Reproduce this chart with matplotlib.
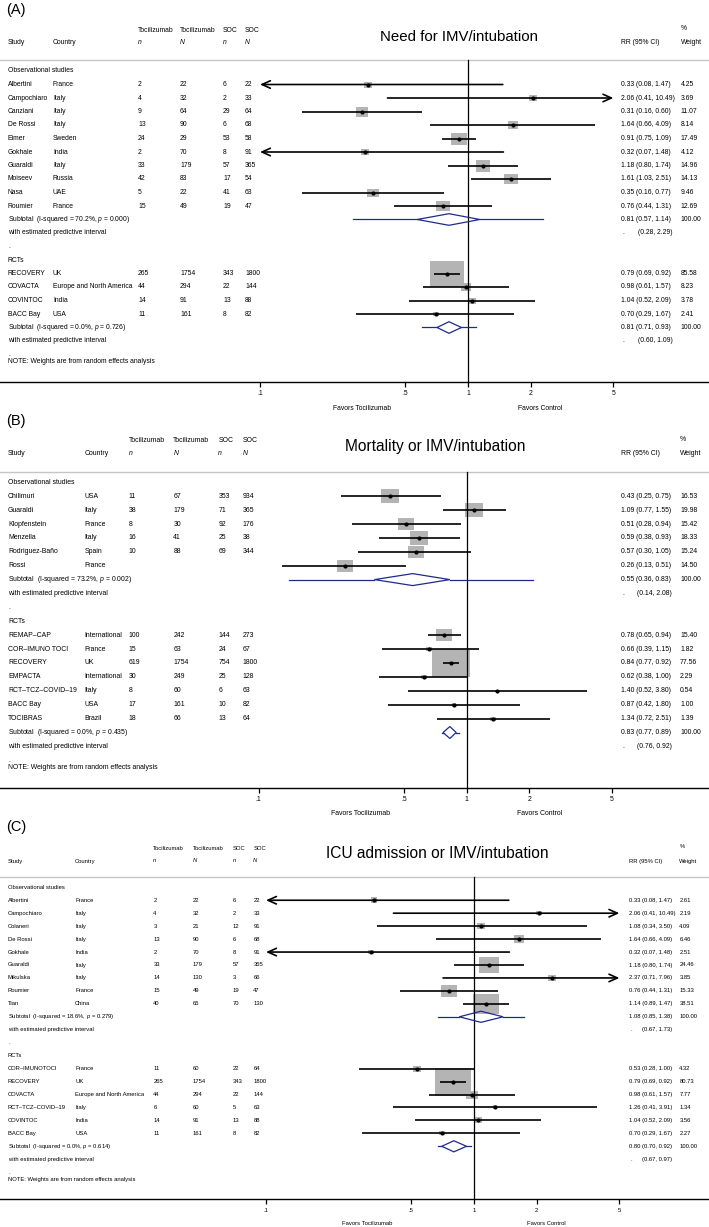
import numpy as np
import matplotlib
matplotlib.use("Agg")
import matplotlib.pyplot as plt
from matplotlib.path import Path
from matplotlib import transforms
from matplotlib.ticker import NullLocator

plt.rcParams['font.family'] = ['Liberation Sans', 'DejaVu Sans']
plt.rcParams['mathtext.fontset'] = 'custom'
plt.rcParams['mathtext.rm'] = 'Liberation Sans'
plt.rcParams['mathtext.it'] = 'Liberation Sans:italic'

# ---------------- DATA ----------------
tick_vals = [0.1, 0.5, 1, 2, 5]
tick_labels = [".1", ".5", "1", "2", "5"]

# Panel A: Need for IMV/intubation
a_obs_study = ["Albertini", "Campochiaro", "Canziani", "De Rossi", "Eimer", "Gokhale",
               "Guaraldi", "Moiseev", "Nasa", "Roumier"]
a_obs_country = ["France", "Italy", "Italy", "Italy", "Sweden", "India", "Italy", "Russia", "UAE", "France"]
a_obs_toci_n = [2, 4, 9, 13, 24, 2, 33, 42, 5, 15]
a_obs_toci_N = [22, 32, 64, 90, 29, 70, 179, 83, 22, 49]
a_obs_soc_n = [6, 2, 29, 6, 53, 8, 57, 17, 41, 19]
a_obs_soc_N = [22, 33, 64, 68, 58, 91, 365, 54, 63, 47]
a_obs_rr = [0.33, 2.06, 0.31, 1.64, 0.91, 0.32, 1.18, 1.61, 0.35, 0.76]
a_obs_lo = [0.08, 0.41, 0.16, 0.66, 0.75, 0.07, 0.80, 1.03, 0.16, 0.44]
a_obs_hi = [1.47, 10.49, 0.60, 4.09, 1.09, 1.48, 1.74, 2.51, 0.77, 1.31]
a_obs_wt = [4.25, 3.69, 11.07, 8.14, 17.49, 4.12, 14.96, 14.13, 9.46, 12.69]
a_obs_het = [70.2, 0.000]
a_obs_pooled = [0.81, 0.57, 1.14]
a_obs_pi = [0.28, 2.29]

a_rct_study = ["RECOVERY", "COVACTA", "COVINTOC", "BACC Bay"]
a_rct_country = ["UK", "Europe and North America", "India", "USA"]
a_rct_toci_n = [265, 44, 14, 11]
a_rct_toci_N = [1754, 294, 91, 161]
a_rct_soc_n = [343, 22, 13, 8]
a_rct_soc_N = [1800, 144, 88, 82]
a_rct_rr = [0.79, 0.98, 1.04, 0.70]
a_rct_lo = [0.69, 0.61, 0.52, 0.29]
a_rct_hi = [0.92, 1.57, 2.09, 1.67]
a_rct_wt = [85.58, 8.23, 3.78, 2.41]
a_rct_het = [0.0, 0.726]
a_rct_pooled = [0.81, 0.71, 0.93]
a_rct_pi = [0.60, 1.09]

# Panel B: Mortality or IMV/intubation
b_obs_study = ["Chilimuri", "Guaraldi", "Klopfenstein", "Menzella", "Rodriguez-Baño", "Rossi"]
b_obs_country = ["USA", "Italy", "France", "Italy", "Spain", "France"]
b_obs_toci_n = [11, 38, 8, 16, 10, None]
b_obs_toci_N = [67, 179, 30, 41, 88, None]
b_obs_soc_n = [353, 71, 92, 25, 69, None]
b_obs_soc_N = [934, 365, 176, 38, 344, None]
b_obs_rr = [0.43, 1.09, 0.51, 0.59, 0.57, 0.26]
b_obs_lo = [0.25, 0.77, 0.28, 0.38, 0.30, 0.13]
b_obs_hi = [0.75, 1.55, 0.94, 0.93, 1.05, 0.51]
b_obs_wt = [16.53, 19.98, 15.42, 18.33, 15.24, 14.50]
b_obs_het = [73.2, 0.002]
b_obs_pooled = [0.55, 0.36, 0.83]
b_obs_pi = [0.14, 2.08]

b_rct_study = ["REMAP–CAP", "COR–IMUNO TOCI", "RECOVERY", "EMPACTA", "RCT–TCZ–COVID–19", "BACC Bay", "TOCIBRAS"]
b_rct_country = ["International", "France", "UK", "International", "Italy", "USA", "Brazil"]
b_rct_toci_n = [100, 15, 619, 30, 8, 17, 18]
b_rct_toci_N = [242, 63, 1754, 249, 60, 161, 66]
b_rct_soc_n = [144, 24, 754, 25, 6, 10, 13]
b_rct_soc_N = [273, 67, 1800, 128, 63, 82, 64]
b_rct_rr = [0.78, 0.66, 0.84, 0.62, 1.40, 0.87, 1.34]
b_rct_lo = [0.65, 0.39, 0.77, 0.38, 0.52, 0.42, 0.72]
b_rct_hi = [0.94, 1.15, 0.92, 1.00, 3.80, 1.80, 2.51]
b_rct_wt = [15.40, 1.82, 77.56, 2.29, 0.54, 1.00, 1.39]
b_rct_het = [0.0, 0.435]
b_rct_pooled = [0.83, 0.77, 0.89]
b_rct_pi = [0.76, 0.92]

# Panel C: ICU admission or IMV/intubation
c_obs_study = ["Albertini", "Campochiaro", "Colaneri", "De Rossi", "Gokhale", "Guaraldi",
               "Mikulska", "Roumier", "Tian"]
c_obs_country = ["France", "Italy", "Italy", "Italy", "India", "Italy", "Italy", "France", "China"]
c_obs_toci_n = [2, 4, 3, 13, 2, 33, 14, 15, 40]
c_obs_toci_N = [22, 32, 21, 90, 70, 179, 130, 49, 65]
c_obs_soc_n = [6, 2, 12, 6, 8, 57, 3, 19, 70]
c_obs_soc_N = [22, 33, 91, 68, 91, 365, 66, 47, 130]
c_obs_rr = [0.33, 2.06, 1.08, 1.64, 0.32, 1.18, 2.37, 0.76, 1.14]
c_obs_lo = [0.08, 0.41, 0.34, 0.66, 0.07, 0.80, 0.71, 0.44, 0.89]
c_obs_hi = [1.47, 10.49, 3.50, 4.09, 1.48, 1.74, 7.96, 1.31, 1.47]
c_obs_wt = [2.61, 2.19, 4.09, 6.46, 2.51, 24.46, 3.85, 15.33, 38.51]
c_obs_het = [18.6, 0.279]
c_obs_pooled = [1.08, 0.85, 1.38]
c_obs_pi = [0.67, 1.73]

c_rct_study = ["COR–IMUNOTOCI", "RECOVERY", "COVACTA", "RCT–TCZ–COVID–19", "COVINTOC", "BACC Bay"]
c_rct_country = ["France", "UK", "Europe and North America", "Italy", "India", "USA"]
c_rct_toci_n = [11, 265, 44, 6, 14, 11]
c_rct_toci_N = [60, 1754, 294, 60, 91, 161]
c_rct_soc_n = [22, 343, 22, 5, 13, 8]
c_rct_soc_N = [64, 1800, 144, 63, 88, 82]
c_rct_rr = [0.53, 0.79, 0.98, 1.26, 1.04, 0.70]
c_rct_lo = [0.28, 0.69, 0.61, 0.41, 0.52, 0.29]
c_rct_hi = [1.00, 0.92, 1.57, 3.91, 2.09, 1.67]
c_rct_wt = [4.32, 80.73, 7.77, 1.34, 3.56, 2.27]
c_rct_het = [0.0, 0.614]
c_rct_pooled = [0.80, 0.70, 0.92]
c_rct_pi = [0.67, 0.97]


def group(name, study, country, tn, tN, sn, sN, rr, lo, hi, wt, het, pooled, pi):
    return dict(name=name, study=study, country=country, tn=tn, tN=tN, sn=sn, sN=sN,
                rr=rr, lo=lo, hi=hi, wt=wt, het=het, pooled=pooled, pi=pi)


panels = [
    dict(label="(A)", title="Need for IMV/intubation", groups=[
        group("Observational studies", a_obs_study, a_obs_country, a_obs_toci_n, a_obs_toci_N,
              a_obs_soc_n, a_obs_soc_N, a_obs_rr, a_obs_lo, a_obs_hi, a_obs_wt, a_obs_het, a_obs_pooled, a_obs_pi),
        group("RCTs", a_rct_study, a_rct_country, a_rct_toci_n, a_rct_toci_N,
              a_rct_soc_n, a_rct_soc_N, a_rct_rr, a_rct_lo, a_rct_hi, a_rct_wt, a_rct_het, a_rct_pooled, a_rct_pi)]),
    dict(label="(B)", title="Mortality or IMV/intubation", groups=[
        group("Observational studies", b_obs_study, b_obs_country, b_obs_toci_n, b_obs_toci_N,
              b_obs_soc_n, b_obs_soc_N, b_obs_rr, b_obs_lo, b_obs_hi, b_obs_wt, b_obs_het, b_obs_pooled, b_obs_pi),
        group("RCTs", b_rct_study, b_rct_country, b_rct_toci_n, b_rct_toci_N,
              b_rct_soc_n, b_rct_soc_N, b_rct_rr, b_rct_lo, b_rct_hi, b_rct_wt, b_rct_het, b_rct_pooled, b_rct_pi)]),
    dict(label="(C)", title="ICU admission or IMV/intubation", groups=[
        group("Observational studies", c_obs_study, c_obs_country, c_obs_toci_n, c_obs_toci_N,
              c_obs_soc_n, c_obs_soc_N, c_obs_rr, c_obs_lo, c_obs_hi, c_obs_wt, c_obs_het, c_obs_pooled, c_obs_pi),
        group("RCTs", c_rct_study, c_rct_country, c_rct_toci_n, c_rct_toci_N,
              c_rct_soc_n, c_rct_soc_N, c_rct_rr, c_rct_lo, c_rct_hi, c_rct_wt, c_rct_het, c_rct_pooled, c_rct_pi)]),
]

# ---------------- LAYOUT (pixels) ----------------
layouts = [
    dict(top=0, axis=382, row0=71, sp=13.5, one=468, fs=4.9, box_k=3.7,
         cols=dict(study=8, country=53, tn=138, tN=180, sn=223, sN=245, rr=621, w=680.5),
         label_y=10, h1=30, h2=43, sep=60, title_y=37, title_x=459, title_fs=10.8,
         pct_y=29, favors=408, pi_off=16.5),
    dict(top=412, axis=787.7, row0=482.3, sp=13.9, one=466.7, fs=4.95, box_k=4.25,
         cols=dict(study=8, country=84.3, tn=128.7, tN=173.3, sn=218.3, sN=242.7, rr=621, w=680),
         label_y=421, h1=440.7, h2=454, sep=471.7, title_y=446.7, title_x=435.5, title_fs=11.2,
         pct_y=440, favors=813.3, pi_off=16),
    dict(top=818, axis=1199.3, row0=887.3, sp=12.95, one=474, fs=4.25, box_k=4.1,
         cols=dict(study=8, country=75, tn=153.3, tN=192.7, sn=232.7, sN=253.3, rr=628.7, w=679.3),
         label_y=826.7, h1=848.3, h2=861, sep=877.3, title_y=853, title_x=437.5, title_fs=11.2,
         pct_y=846.7, favors=1223.3, pi_off=13.5),
]

W, H = 709, 1227
DECADE_PX = 208.0
XMIN, XMAX = 0.1, 5.0
BOX_GRAY = "#b4b4b4"
NAVY = "#1e2b8c"
SEP_GRAY = "#c6c6c6"
ASPECT = 1.3
RECT = Path([(-ASPECT, -1), (ASPECT, -1), (ASPECT, 1), (-ASPECT, 1), (-ASPECT, -1)],
            [Path.MOVETO, Path.LINETO, Path.LINETO, Path.LINETO, Path.CLOSEPOLY])

fig = plt.figure(figsize=(W / 100, H / 100), dpi=100)


def draw_panel(P, L):
    r0, sp = L["row0"], L["sp"]

    def row(px):
        return (px - r0) / sp

    ax = fig.add_axes([0, 1 - L["axis"] / H, 1, (L["axis"] - L["top"]) / H])
    ax.set_xscale("log")
    ax.set_xlim(10 ** ((0 - L["one"]) / DECADE_PX), 10 ** ((W - L["one"]) / DECADE_PX))
    ax.set_ylim(row(L["axis"]), row(L["top"]))
    ax.patch.set_visible(False)
    for s in ["left", "right", "top"]:
        ax.spines[s].set_visible(False)
    ax.spines["bottom"].set_linewidth(1.0)
    ax.set_yticks([])
    ax.set_xticks(tick_vals)
    ax.set_xticklabels(tick_labels)
    ax.xaxis.set_minor_locator(NullLocator())
    ax.tick_params(axis="x", direction="out", length=3.6, width=0.9, labelsize=L["fs"], pad=2.5)

    tr = transforms.blended_transform_factory(ax.transAxes, ax.transData)
    fs = L["fs"]
    c = L["cols"]

    def txt(xpx, y, s, size=None, **kw):
        ax.text(xpx / W, y, s, transform=tr, fontsize=size or fs, va="center", ha="left", **kw)

    # panel label and title
    txt(6.5, row(L["label_y"]), P["label"], size=10.5)
    ax.text(L["title_x"] / W, row(L["title_y"]), P["title"], transform=tr,
            fontsize=L["title_fs"], ha="center", va="center")
    # headers
    y1, y2 = row(L["h1"]), row(L["h2"])
    txt(c["tn"], y1, "Tocilizumab")
    txt(c["tN"], y1, "Tocilizumab")
    txt(c["sn"], y1, "SOC")
    txt(c["sN"], y1, "SOC")
    txt(c["study"], y2, "Study")
    txt(c["country"], y2, "Country")
    txt(c["tn"], y2, "n", style="italic")
    txt(c["tN"], y2, "N", style="italic")
    txt(c["sn"], y2, "n", style="italic")
    txt(c["sN"], y2, "N", style="italic")
    txt(c["rr"], y2, "RR (95% CI)")
    txt(c["w"], row(L["pct_y"]), "%")
    txt(c["w"], y2, "Weight")
    ax.axhline(row(L["sep"]), color=SEP_GRAY, lw=1.0, zorder=1)
    ax.plot([1, 1], [row(L["sep"]), row(L["axis"])], color="black", lw=0.9, zorder=2.5)

    box_scale = L["box_k"] * 72 / 100.0
    y = 0
    for gi, g in enumerate(P["groups"]):
        txt(c["study"], y, g["name"])
        y += 1
        for j in range(len(g["study"])):
            txt(c["study"], y, g["study"][j])
            txt(c["country"], y, g["country"][j])
            for key in ["tn", "tN", "sn", "sN"]:
                v = g[key][j]
                if v is not None:
                    txt(c[key], y, str(v))
            rr, lo, hi, wt = g["rr"][j], g["lo"][j], g["hi"][j], g["wt"][j]
            ax.scatter([rr], [y], s=(box_scale * np.sqrt(wt)) ** 2, marker=RECT,
                       color=BOX_GRAY, linewidths=0, zorder=2)
            l, h = max(lo, XMIN), min(hi, XMAX)
            if lo < XMIN:
                ax.annotate("", xy=(XMIN, y), xytext=(h, y), zorder=3,
                            arrowprops=dict(arrowstyle="->,head_length=0.6,head_width=0.27",
                                            mutation_scale=10, lw=1.2, color="black",
                                            shrinkA=0, shrinkB=0))
            elif hi > XMAX:
                ax.annotate("", xy=(XMAX, y), xytext=(l, y), zorder=3,
                            arrowprops=dict(arrowstyle="->,head_length=0.6,head_width=0.27",
                                            mutation_scale=10, lw=1.2, color="black",
                                            shrinkA=0, shrinkB=0))
            else:
                ax.plot([l, h], [y, y], color="black", lw=1.2, solid_capstyle="butt", zorder=3)
            ax.plot([rr], [y], "o", color="black", ms=3.0, mec="none", zorder=4)
            txt(c["rr"], y, f"{rr:.2f} ({lo:.2f}, {hi:.2f})")
            txt(c["w"], y, f"{wt:.2f}")
            y += 1
        # subtotal
        i2, p = g["het"]
        est, plo, phi = g["pooled"]
        pil, pih = g["pi"]
        txt(c["study"], y, f"Subtotal  (I-squared = {i2:.1f}%, $p$ = {p:.3f})")
        hh = 0.43
        ax.plot([pil, plo], [y, y], color=NAVY, lw=0.9, zorder=3)
        ax.plot([phi, pih], [y, y], color=NAVY, lw=0.9, zorder=3)
        ax.fill([plo, est, phi, est, plo], [y, y - hh, y, y + hh, y], facecolor="none",
                edgecolor=NAVY, lw=0.9, zorder=3)
        txt(c["rr"], y, f"{est:.2f} ({plo:.2f}, {phi:.2f})")
        txt(c["w"], y, "100.00")
        y += 1
        txt(c["study"], y, "with estimated predictive interval")
        txt(c["rr"] + 1.5, y, ".")
        txt(c["rr"] + L["pi_off"], y, f"({pil:.2f}, {pih:.2f})")
        y += 1
        txt(c["study"], y, ".")
        if gi < len(P["groups"]) - 1:
            y += 1
        else:
            txt(c["study"], y + 0.55, "NOTE: Weights are from random effects analysis")

    fy = row(L["favors"])
    ax.text(0.3076, fy, "Favors Tocilizumab", transform=ax.transData, fontsize=fs, ha="center", va="center")
    ax.text(2.23, fy, "Favors Control", transform=ax.transData, fontsize=fs, ha="center", va="center")


for P, L in zip(panels, layouts):
    draw_panel(P, L)

fig.savefig("out.png", dpi=100)
